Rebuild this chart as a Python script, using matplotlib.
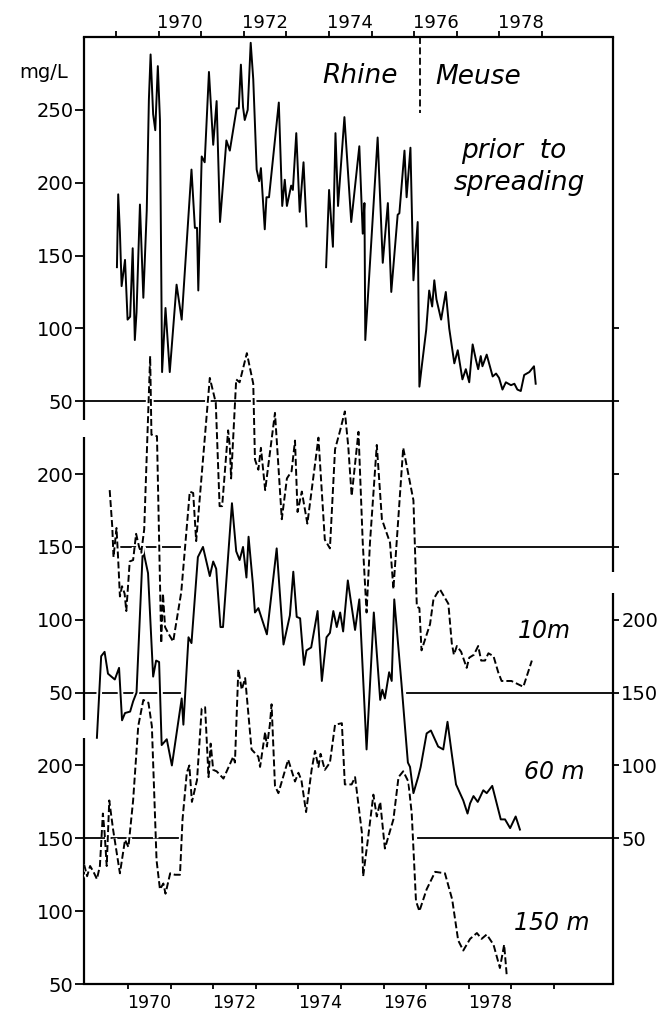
import numpy as np
import matplotlib
matplotlib.use('Agg')
import matplotlib.pyplot as plt
import matplotlib.patheffects as pe

nan = np.nan

# river water prior to spreading, time on the upper axis
river_t = [1969.02, 1969.05, 1969.09, 1969.13, 1969.21, 1969.27, 1969.33, 1969.39, 1969.44, 1969.48,
           1969.56, 1969.64, 1969.72, 1969.77, 1969.81, 1969.87, 1969.92, 1969.98, 1970.03, 1970.08,
           1970.16, 1970.26, 1970.42, 1970.54, 1970.77, 1970.85, 1970.90, 1970.93, 1971.01, 1971.08,
           1971.18, 1971.28, 1971.36, 1971.44, 1971.59, 1971.67, 1971.83, 1971.88, 1971.93, 1971.98,
           1972.02, 1972.09, 1972.16, 1972.22, 1972.30, 1972.36, 1972.40, 1972.49, 1972.53, 1972.59,
           1972.82, 1972.90, 1972.96, 1973.01, 1973.11, 1973.15, 1973.23, 1973.31, 1973.40, 1973.47,
           1973.70,
           1973.93, 1974.00, 1974.05, 1974.09, 1974.15, 1974.21, 1974.36, 1974.52, 1974.71, 1974.79,
           1974.83, 1974.85, 1975.14, 1975.26, 1975.38, 1975.46, 1975.61, 1975.65, 1975.77, 1975.82,
           1975.91, 1975.98, 1976.08, 1976.12, 1976.18, 1976.28, 1976.35, 1976.42, 1976.47, 1976.52,
           1976.63, 1976.74, 1976.82, 1976.94, 1977.02, 1977.13, 1977.21, 1977.29, 1977.37, 1977.45,
           1977.50, 1977.56, 1977.60, 1977.70, 1977.84, 1977.92, 1977.99, 1978.07, 1978.15, 1978.27,
           1978.35, 1978.42, 1978.50, 1978.58, 1978.70, 1978.81, 1978.85]
river_v = [142, 192, 166, 129, 147, 106, 108, 155, 92, 111,
           185, 121, 181, 257, 288, 247, 236, 280, 243, 70,
           114, 70, 130, 106, 209, 169, 169, 126, 218, 214,
           276, 226, 256, 173, 229, 222, 251, 251, 281, 252,
           243, 250, 296, 271, 209, 201, 210, 168, 190, 190,
           255, 184, 202, 184, 198, 195, 234, 180, 214, 170,
           nan,
           142, 195, 173, 156, 234, 184, 245, 173, 225, 165,
           186, 92, 231, 145, 186, 125, 178, 179, 222, 190,
           224, 133, 173, 60, 75, 99, 126, 115, 133, 120,
           106, 125, 100, 76, 85, 65, 72, 63, 89, 78,
           72, 81, 74, 82, 67, 69, 66, 58, 63, 61,
           62, 58, 57, 68, 70, 74, 62]

# observation wells, time on the lower axis
t10 = [1969.57, 1969.63, 1969.66, 1969.73, 1969.77, 1969.81, 1969.86, 1969.92, 1969.96, 1970.04,
       1970.12, 1970.19, 1970.26, 1970.31, 1970.38, 1970.52, 1970.55, 1970.68, 1970.78, 1970.82,
       1970.87, 1970.94, 1971.06, 1971.25, 1971.45, 1971.53, 1971.60, 1971.92, 1972.06, 1972.15,
       1972.21, 1972.35, 1972.39, 1972.42, 1972.54, 1972.62, 1972.79, 1972.94, 1972.98, 1973.06,
       1973.12, 1973.22, 1973.45, 1973.61, 1973.73, 1973.84, 1973.92, 1973.98, 1974.08, 1974.21,
       1974.47, 1974.62, 1974.74, 1974.86, 1974.98, 1975.09, 1975.17, 1975.25, 1975.41, 1975.51,
       1975.60, 1975.68, 1975.84, 1975.96, 1976.03, 1976.15, 1976.23, 1976.46, 1976.70, 1976.78,
       1976.84, 1976.89, 1977.09, 1977.17, 1977.25, 1977.32, 1977.44, 1977.52, 1977.60, 1977.65,
       1977.72, 1977.82, 1977.95, 1978.01, 1978.12, 1978.22, 1978.29, 1978.38, 1978.46, 1978.58,
       1978.69, 1978.77, 1979.00, 1979.28, 1979.48]
v10 = [189, 164, 143, 163, 141, 116, 123, 118, 106, 140,
       141, 159, 150, 146, 162, 281, 227, 226, 84, 118,
       95, 91, 85, 119, 188, 187, 154, 266, 249, 178,
       178, 230, 219, 197, 265, 263, 283, 262, 210, 203,
       218, 189, 242, 169, 197, 202, 223, 174, 188, 166,
       225, 155, 149, 217, 230, 243, 219, 185, 229, 153,
       105, 153, 220, 169, 163, 153, 121, 218, 182, 109,
       108, 79, 97, 114, 118, 121, 115, 111, 84, 76,
       82, 78, 67, 74, 76, 82, 72, 72, 77, 75,
       64, 58, 58, 54, 72]

t60 = [1969.27, 1969.37, 1969.45, 1969.53, 1969.69, 1969.79, 1969.86, 1969.93, 1970.05, 1970.12,
       1970.20, 1970.35, 1970.39, 1970.47, 1970.59, 1970.66, 1970.73, 1970.79, 1970.91, 1971.03,
       1971.26, 1971.30, 1971.42, 1971.49, 1971.64, 1971.76, 1971.92, 1972.00, 1972.07, 1972.17,
       1972.23, 1972.44, 1972.54, 1972.62, 1972.70, 1972.78, 1972.83, 1972.93, 1972.98, 1973.06,
       1973.26, 1973.49, 1973.65, 1973.80, 1973.88, 1973.96, 1974.04, 1974.13, 1974.19, 1974.30,
       1974.45, 1974.55, 1974.66, 1974.74, 1974.82, 1974.90, 1974.98, 1975.05, 1975.16, 1975.33,
       1975.43, 1975.60, 1975.77, 1975.92, 1975.97, 1976.03, 1976.13, 1976.19, 1976.25, 1976.42,
       1976.50, 1976.57, 1976.62, 1976.70, 1976.81, 1976.87, 1977.01, 1977.11, 1977.28, 1977.40,
       1977.50, 1977.60, 1977.70, 1977.87, 1977.97, 1978.03, 1978.11, 1978.21, 1978.34, 1978.42,
       1978.55, 1978.75, 1978.85, 1978.97, 1979.10, 1979.20]
v60 = [119, 175, 178, 163, 159, 167, 131, 136, 137, 144,
       150, 250, 243, 232, 161, 172, 171, 114, 118, 100,
       146, 128, 188, 184, 243, 250, 230, 240, 235, 195,
       195, 280, 247, 241, 250, 229, 257, 225, 205, 208,
       190, 249, 183, 203, 233, 202, 201, 169, 179, 181,
       206, 158, 188, 191, 206, 195, 205, 192, 227, 193,
       214, 111, 205, 145, 152, 146, 164, 158, 214, 156,
       127, 102, 99, 81, 92, 99, 122, 124, 113, 111,
       130, 108, 87, 76, 67, 74, 79, 75, 83, 81,
       86, 63, 63, 57, 65, 56]

t150 = [1968.97, 1969.04, 1969.11, 1969.19, 1969.27, 1969.34, 1969.41, 1969.45, 1969.50, 1969.56,
        1969.65, 1969.81, 1969.93, 1970.01, 1970.12, 1970.24, 1970.36, 1970.48, 1970.56, 1970.67,
        1970.75, 1970.83, 1970.88, 1970.99, 1971.10, 1971.22, 1971.28, 1971.38, 1971.44, 1971.50,
        1971.62, 1971.73, 1971.81, 1971.89, 1971.94, 1972.00, 1972.08, 1972.24, 1972.47, 1972.51,
        1972.59, 1972.67, 1972.75, 1972.90, 1973.06, 1973.10, 1973.22, 1973.26, 1973.33, 1973.37,
        1973.45, 1973.53, 1973.76, 1973.92, 1974.00, 1974.07, 1974.18, 1974.31, 1974.39, 1974.47,
        1974.52, 1974.62, 1974.74, 1974.86, 1975.02, 1975.09, 1975.25, 1975.33, 1975.49, 1975.52,
        1975.63, 1975.76, 1975.84, 1975.92, 1976.03, 1976.23, 1976.35, 1976.46, 1976.58, 1976.66,
        1976.76, 1976.84, 1977.01, 1977.21, 1977.44, 1977.61, 1977.75, 1977.87, 1978.03, 1978.19,
        1978.30, 1978.42, 1978.58, 1978.73, 1978.83, 1978.89]
v150 = [132, 124, 131, 127, 122, 131, 167, 154, 131, 176,
        156, 126, 149, 144, 176, 227, 245, 243, 227, 135,
        115, 119, 112, 126, 125, 125, 163, 195, 200, 175,
        190, 239, 240, 192, 215, 197, 196, 191, 206, 202,
        266, 252, 260, 211, 206, 199, 223, 213, 228, 242,
        186, 181, 204, 189, 195, 190, 168, 197, 210, 199,
        208, 197, 202, 228, 229, 187, 187, 192, 154, 124,
        149, 180, 165, 175, 143, 163, 192, 196, 189, 167,
        107, 100, 115, 127, 126, 108, 80, 73, 81, 85,
        81, 84, 77, 61, 77, 56]

year_labels = ['1970', '1972', '1974', '1976', '1978']
left_labels = ['250', '200', '150', '100', '50',
               '200', '150', '100', '50',
               '200', '150', '100', '50']
right_labels = ['', '', '', '', '200', '150', '100', '50']

switch_year = 1976.14   # Rhine -> Meuse, upper time axis

# the upper axis runs this many years behind the lower one
SHIFT = 0.72
# vertical offsets used to stack the wells under the river curve
OFF10, OFF60, OFF150 = 200, 300, 400

plt.rcParams['lines.scale_dashes'] = False
plt.rcParams['font.family'] = 'DejaVu Sans'

fig = plt.figure(figsize=(6.63, 10.13), dpi=100)
ax = fig.add_axes([0.1267, 0.0286, 0.7979, 0.9349])
x0, x1 = 1968.967, 1981.385
ax.set_xlim(x0, x1)
ax.set_ylim(-350, 300)
axt = ax.twiny()
axt.set_xlim(x0 - SHIFT, x1 - SHIFT)
axr = ax.twinx()
axr.set_ylim(-350, 300)

for a in (ax, axt, axr):
    for s in a.spines.values():
        s.set_visible(False)
for s in ('top', 'bottom'):
    ax.spines[s].set_visible(True)
    ax.spines[s].set_linewidth(1.6)

# broken side axes
ytr = ax.get_yaxis_transform()
for ya, yb in [(300, 37), (25.5, -168.7), (-181, -350)]:
    ax.plot([0, 0], [ya, yb], transform=ytr, color='k', lw=1.6, clip_on=False,
            solid_capstyle='butt')
for ya, yb in [(300, -67), (-81.6, -350)]:
    ax.plot([1, 1], [ya, yb], transform=ytr, color='k', lw=1.6, clip_on=False,
            solid_capstyle='butt')

# y ticks
left_pos = [250, 200, 150, 100, 50,
            200 - OFF10, 150 - OFF10, 100 - OFF10, 50 - OFF10,
            200 - OFF150, 150 - OFF150, 100 - OFF150, 50 - OFF150]
ax.set_yticks(left_pos)
ax.set_yticklabels(left_labels)
ax.tick_params(axis='y', direction='out', length=6.5, width=1.3, labelsize=14, pad=1)
right_pos = [100, 50, 0, -50, 200 - OFF60, 150 - OFF60, 100 - OFF60, 50 - OFF60]
axr.set_yticks(right_pos)
axr.set_yticklabels(right_labels)
axr.tick_params(axis='y', direction='out', length=4, width=1.3, labelsize=14, pad=2)

# x ticks: year boundaries, labels centred in the year
ax.set_xticks(range(1970, 1981))
ax.set_xticklabels([])
ax.set_xticks([int(y) + 0.5 for y in year_labels], minor=True)
ax.set_xticklabels(year_labels, minor=True)
ax.tick_params(axis='x', which='major', direction='out', length=3.5, width=1.3)
ax.tick_params(axis='x', which='minor', length=0, labelsize=12.5, pad=7.5)
axt.set_xticks(range(1969, 1980))
axt.set_xticklabels([])
axt.set_xticks([int(y) + 0.5 for y in year_labels], minor=True)
axt.set_xticklabels(year_labels, minor=True)
axt.tick_params(axis='x', which='major', direction='out', length=4, width=1.3)
axt.tick_params(axis='x', which='minor', length=0, labelsize=13, pad=3.5)

# base lines
kw = dict(color='k', lw=1.3, zorder=1)
ax.axhline(50, **kw)
ax.axhline(150 - OFF10, xmin=0.058, xmax=0.181, **kw)
ax.axhline(150 - OFF10, xmin=0.63, xmax=1, **kw)
ax.axhline(50 - OFF10, xmin=0, xmax=0.181, **kw)
ax.axhline(50 - OFF10, xmin=0.611, xmax=1, **kw)
ax.axhline(50 - OFF60, xmin=0, xmax=0.181, **kw)
ax.axhline(50 - OFF60, xmin=0.631, xmax=1, **kw)

lw = 1.4
halo = [pe.Stroke(linewidth=lw + 2.6, foreground='white'), pe.Normal()]
dash = (0, (5, 2.2))
ax.plot(t150, np.array(v150) - OFF150, color='k', lw=lw, ls=dash, path_effects=halo, zorder=2)
ax.plot(t60, np.array(v60) - OFF60, color='k', lw=lw, path_effects=halo, zorder=3)
ax.plot(t10, np.array(v10) - OFF10, color='k', lw=lw, ls=dash, path_effects=halo, zorder=4)
axt.plot(river_t, river_v, color='k', lw=lw, path_effects=halo, zorder=5)
axt.plot([switch_year, switch_year], [300, 248], color='k', lw=1.3, ls=(0, (5, 2.5)))

# labels
fig.text(44 / 663, 1 - 73 / 1013, 'mg/L', fontsize=14, ha='center', va='center')
it = dict(fontsize=19, style='italic', ha='center', va='center')
fig.text(360 / 663, 1 - 76 / 1013, 'Rhine', **it)
fig.text(478 / 663, 1 - 77 / 1013, 'Meuse', **it)
fig.text(514 / 663, 1 - 151 / 1013, 'prior  to', **it)
fig.text(519 / 663, 1 - 183 / 1013, 'spreading', **it)
it['fontsize'] = 17
fig.text(544 / 663, 1 - 631 / 1013, '10m', **it)
fig.text(554 / 663, 1 - 772 / 1013, '60 m', **it)
fig.text(552 / 663, 1 - 923 / 1013, '150 m', **it)

fig.savefig('out.png', dpi=100)
